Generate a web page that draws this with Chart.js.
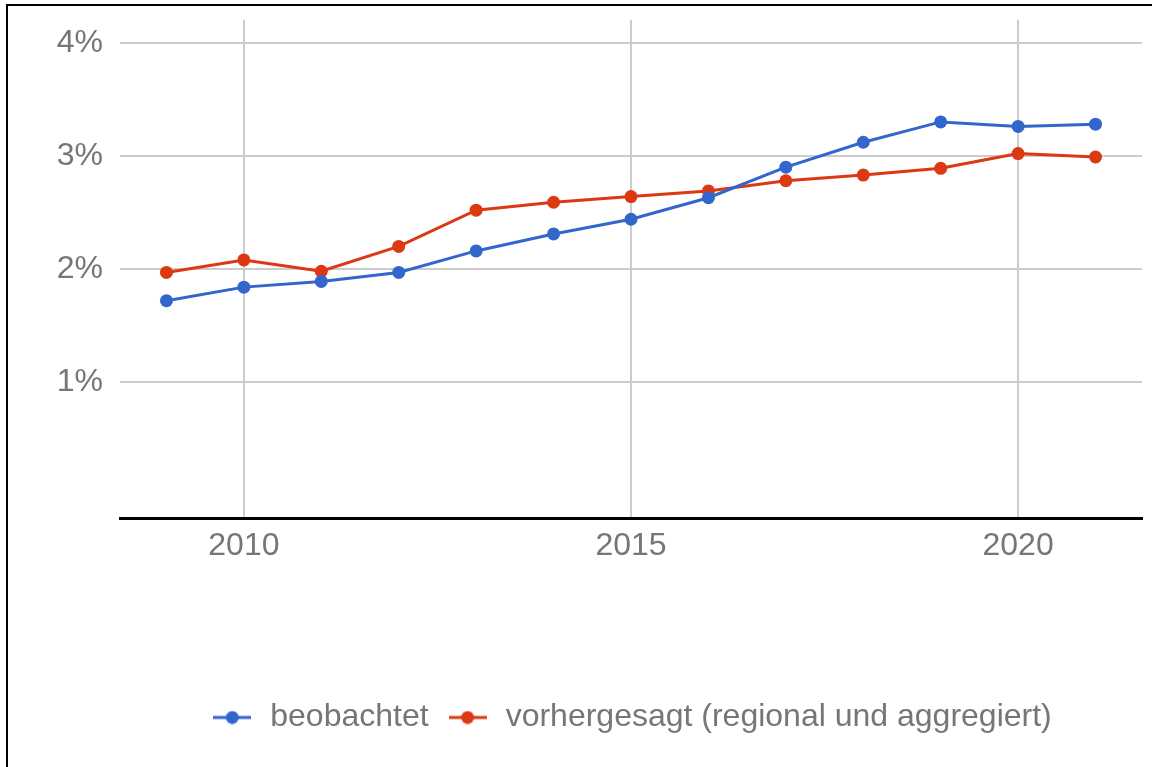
<!DOCTYPE html>
<html>
<head>
<meta charset="utf-8">
<script src="https://cdn.jsdelivr.net/npm/chart.js@4/dist/chart.umd.min.js"></script>
<style>
  html, body { margin: 0; padding: 0; background: #fff; }
  #wrap { position: relative; width: 1152px; height: 767px; overflow: hidden; }
  #frame { position: absolute; left: 6px; top: 4px; width: 1200px; height: 800px;
           border-top: 2px solid #000; border-left: 2px solid #000; pointer-events: none; }
  canvas { position: absolute; left: 0; top: 0; }
</style>
</head>
<body>
<div id="wrap">
  <canvas id="c" width="1152" height="767"></canvas>
  <div id="frame"></div>
</div>
<script>
const years = [2009, 2010, 2011, 2012, 2013, 2014, 2015, 2016, 2017, 2018, 2019, 2020, 2021];
const observed  = [1.72, 1.84, 1.89, 1.97, 2.16, 2.31, 2.44, 2.63, 2.90, 3.12, 3.30, 3.26, 3.28];
const predicted = [1.97, 2.08, 1.98, 2.20, 2.52, 2.59, 2.64, 2.69, 2.78, 2.83, 2.89, 3.02, 2.99];
const seriesNames = ['beobachtet', 'vorhergesagt (regional und aggregiert)'];
const seriesColors = ['#3366cc', '#dc3912'];
const yTicks = [1, 2, 3, 4];
const xTicks = [2010, 2015, 2020];

const FONT = '"Liberation Sans", Arial, sans-serif';
const TEXT = '#767676';
const FS = 32;

function legendMarker(color) {
  const c = document.createElement('canvas');
  c.width = 38; c.height = 14;
  const g = c.getContext('2d');
  g.strokeStyle = color; g.lineWidth = 3;
  g.beginPath(); g.moveTo(0, 7); g.lineTo(38, 7); g.stroke();
  g.fillStyle = color;
  g.beginPath(); g.arc(19, 7, 6.5, 0, Math.PI * 2); g.fill();
  return c;
}
const markers = seriesColors.map(legendMarker);

const toPoints = vals => years.map((y, i) => ({ x: y, y: vals[i] }));

new Chart(document.getElementById('c'), {
  type: 'line',
  data: {
    datasets: [observed, predicted].map((vals, i) => ({
      label: seriesNames[i],
      data: toPoints(vals),
      borderColor: seriesColors[i],
      backgroundColor: seriesColors[i],
      borderWidth: 3,
      pointRadius: 6.5,
      pointBorderWidth: 0,
      pointHoverRadius: 6.5,
      tension: 0
    }))
  },
  options: {
    responsive: false,
    animation: false,
    layout: { padding: { top: 15, right: 10, bottom: 23.5, left: 0 } },
    plugins: {
      tooltip: { enabled: false },
      legend: {
        position: 'bottom',
        fullSize: false,
        labels: {
          usePointStyle: true,
          pointStyleWidth: 44,
          padding: 17,
          color: TEXT,
          font: { family: FONT, size: FS },
          generateLabels: chart => chart.data.datasets.map((ds, i) => ({
            text: ds.label,
            pointStyle: markers[i],
            fillStyle: seriesColors[i],
            strokeStyle: seriesColors[i],
            lineWidth: 0,
            fontColor: TEXT,
            datasetIndex: i
          }))
        }
      }
    },
    scales: {
      x: {
        type: 'linear',
        min: 2008.4,
        max: 2021.6,
        afterBuildTicks: s => { s.ticks = xTicks.map(v => ({ value: v })); },
        afterFit: s => { s.height = 166.5; },
        ticks: {
          color: TEXT,
          font: { family: FONT, size: FS },
          padding: 9,
          maxRotation: 0,
          callback: v => String(v)
        },
        grid: { color: '#cccccc', lineWidth: 2, drawTicks: false },
        border: { display: true, color: '#000000', width: 3 }
      },
      y: {
        min: -0.2,
        max: 4.2,
        afterBuildTicks: s => { s.ticks = yTicks.map(v => ({ value: v })); },
        afterFit: s => { s.width = 120; },
        ticks: {
          color: TEXT,
          font: { family: FONT, size: FS, lineHeight: 0.19 },
          padding: 17,
          callback: v => v + '%'
        },
        grid: { color: '#cccccc', lineWidth: 2, drawTicks: false },
        border: { display: false }
      }
    }
  }
});
</script>
</body>
</html>
